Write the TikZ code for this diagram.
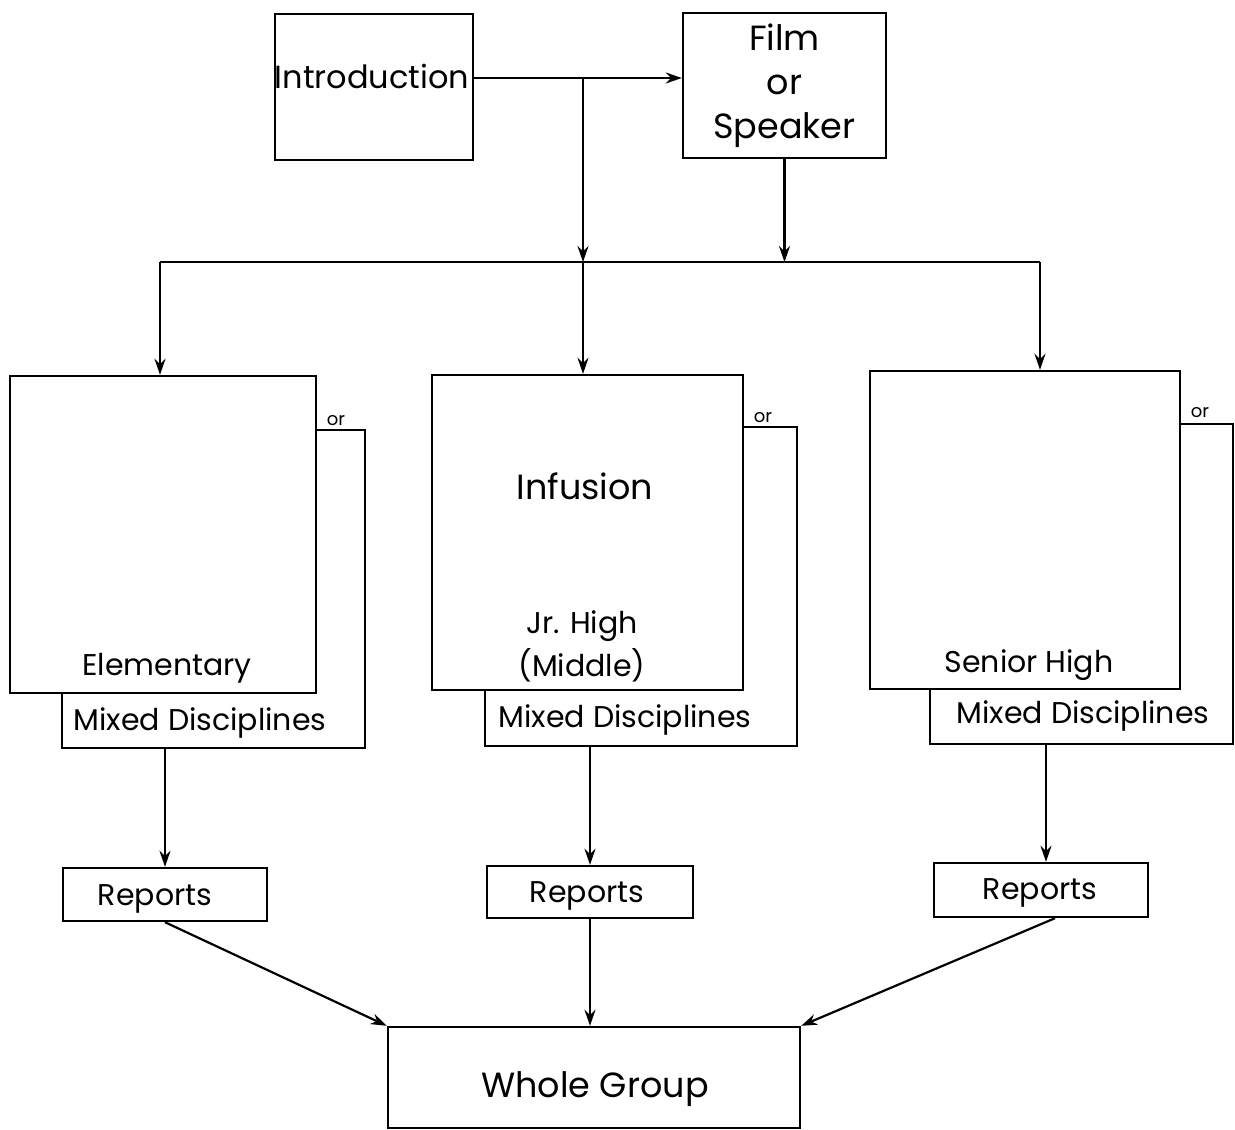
\documentclass[tikz,border=0pt]{standalone}
\usepackage{fontspec}
\setmainfont{Poppins}
\usetikzlibrary{arrows.meta,calc}
\tikzset{
  box/.style={draw, line width=2.4pt, rectangle, inner sep=0pt, fill=white},
  lbl/.style={font=\fontsize{30}{36}\selectfont, inner sep=0pt},
  biglbl/.style={font=\fontsize{35}{44}\selectfont, inner sep=0pt},
  smalllbl/.style={font=\fontsize{18}{20}\selectfont, inner sep=0pt},
  conn/.style={line width=2.2pt, -{Stealth[length=16pt,width=11pt]}},
  wire/.style={line width=2.2pt}
}
\begin{document}
\begin{tikzpicture}[x=1pt,y=-1pt]
\useasboundingbox (0,0) rectangle (1235,1130);
\fill[white] (0,0) rectangle (1235,1130);

% top boxes
\node[box, minimum width=198pt, minimum height=146pt] (intro) at (374,87) {};
\node[biglbl, font=\fontsize{32}{40}\selectfont] (introT) at (372,76) {Introduction};
\node[box, minimum width=203pt, minimum height=145pt, biglbl, align=center] (film) at (784.5,85.5) {Film\\or\\Speaker};

% back boxes (Mixed Disciplines)
\node[box, minimum width=303pt, minimum height=318pt] (elemB) at (213.5,589) {};
\node[box, minimum width=312pt, minimum height=319pt] (infB) at (641,586.5) {};
\node[box, minimum width=303pt, minimum height=320pt] (senB) at (1081.5,584) {};

% front boxes
\node[box, minimum width=306pt, minimum height=317pt] (elem) at (163,534.5) {};
\node[box, minimum width=311pt, minimum height=315pt] (inf) at (587.5,532.5) {};
\node[box, minimum width=310pt, minimum height=318pt] (sen) at (1025,530) {};

% labels in the level boxes
\node[lbl] (elemT) at (167,668) {Elementary};
\node[biglbl] (infT) at (585,486) {Infusion};
\node[lbl, align=center, font=\fontsize{30}{43}\selectfont] (jrT) at (582,646) {Jr. High\\(Middle)};
\node[lbl] (senT) at (1029,665) {Senior High};
\node[lbl] (elemBT) at (200,723) {Mixed Disciplines};
\node[lbl] (infBT) at (625,720) {Mixed Disciplines};
\node[lbl] (senBT) at (1083,716) {Mixed Disciplines};
\node[smalllbl] (or1) at (336,421) {or};
\node[smalllbl] (or2) at (763,418) {or};
\node[smalllbl] (or3) at (1200,413) {or};

% reports and whole group
\node[box, minimum width=204pt, minimum height=53pt] (rep1) at (165,894.5) {};
\node[box, minimum width=206pt, minimum height=52pt] (rep2) at (590,892) {};
\node[box, minimum width=214pt, minimum height=54pt] (rep3) at (1041,890) {};
\node[lbl] (rep1T) at (155,899) {Reports};
\node[lbl] (rep2T) at (587,896) {Reports};
\node[lbl] (rep3T) at (1040,893) {Reports};
\node[box, minimum width=412pt, minimum height=101pt] (whole) at (594,1077.5) {};
\node[biglbl] (wholeT) at (595,1089) {Whole Group};

% connectors at the top
\coordinate (jTop) at (583,78);
\coordinate (jBus) at (583,262);
\coordinate (busL) at (160,262);
\coordinate (busR) at (1040,262);
\draw[conn] ([yshift=9pt]intro.east) -- (film.west |- jTop);
\draw[conn] (jTop) -- (jBus);
\draw[conn] (film.south) -- (film.south |- jBus);
\draw[wire] (busL) -- (busR);
\draw[conn] (busL) -- (busL |- elem.north);
\draw[conn] (jBus) -- (jBus |- inf.north);
\draw[conn] (busR) -- (busR |- sen.north);

% connectors down to reports
\draw[conn] (rep1.north |- elemB.south) -- (rep1.north);
\draw[conn] (rep2.north |- infB.south) -- (rep2.north);
\draw[conn] ([xshift=5pt]rep3.north |- senB.south) -- ([xshift=5pt]rep3.north);

% connectors to whole group
\draw[conn] (rep1.south) -- (whole.north west);
\draw[conn] (rep2.south) -- (rep2.south |- whole.north);
\draw[conn] ([xshift=14pt]rep3.south) -- (whole.north east);
\end{tikzpicture}
\end{document}
